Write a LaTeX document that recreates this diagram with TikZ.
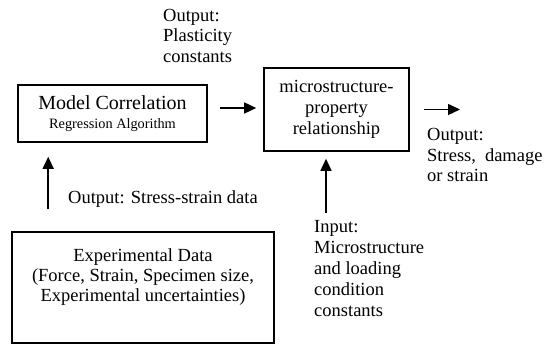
\documentclass[tikz,border=0pt]{standalone}
\usepackage{fontspec}
\setmainfont{Liberation Serif}
\usetikzlibrary{arrows.meta,calc}
\tikzset{
  boxnode/.style={draw,line width=1.6pt,rectangle,inner sep=0pt},
  txt/.style={inner sep=0pt,align=left,font=\fontsize{18.5}{20.5}\selectfont},
  arr/.style={line width=1.5pt,-{Triangle[length=12pt,width=11pt]}}
}
\begin{document}
\begin{tikzpicture}[x=1pt,y=-1pt]
\useasboundingbox (0,0) rectangle (547,344);
% boxes
\node[boxnode,minimum width=189pt,minimum height=57pt,align=center,font=\fontsize{20}{19}\selectfont] (model) at (112.5,113.5)
  {Model Correlation\\{\fontsize{14.3}{19}\selectfont Regression Algorithm}};
\node[boxnode,minimum width=145pt,minimum height=83pt,align=center,font=\fontsize{18.5}{21}\selectfont] (micro) at (336.5,109.5)
  {microstructure-\\property\\relationship};
\node[boxnode,minimum width=262pt,minimum height=111pt] (exp) at (143,287.5) {};
\node[inner sep=0pt,align=center,font=\fontsize{18.5}{20}\selectfont] (exptext) at (143,277)
  {Experimental Data\\(Force, Strain, Specimen size,\\Experimental uncertainties)};
% labels
\node[txt,anchor=west] (plast) at (163,35.5) {Output:\\Plasticity\\constants};
\node[txt,anchor=west] (ssdata) at (68,199) {Output: Stress-strain data};
\node[txt,anchor=west,font=\fontsize{18.5}{21}\selectfont] (inp) at (314,269)
  {Input:\\Microstructure\\and loading\\condition\\constants};
\node[txt,anchor=west] (outs) at (427,155) {Output:\\Stress,\hspace{9pt}damage\\or strain};
% connectors
\coordinate (a1s) at ($(exp.north west)+(37,0)$);
\coordinate (a1e) at ($(model.south west)+(31,0)$);
\draw[arr,shorten <=22pt,shorten >=14pt] (a1s) -- (a1e);
\coordinate (a2s) at ($(model.east)+(0,-5.5)$);
\draw[arr,shorten <=12pt,shorten >=7pt] (a2s) -- (a2s -| micro.west);
\coordinate (a3e) at (460,109.5);
\draw[arr,shorten <=14pt] (micro.east) -- (a3e);
\coordinate (a4s) at (326,213);
\draw[arr,shorten >=7pt] (a4s) -- (a4s |- micro.south);
\end{tikzpicture}
\end{document}
